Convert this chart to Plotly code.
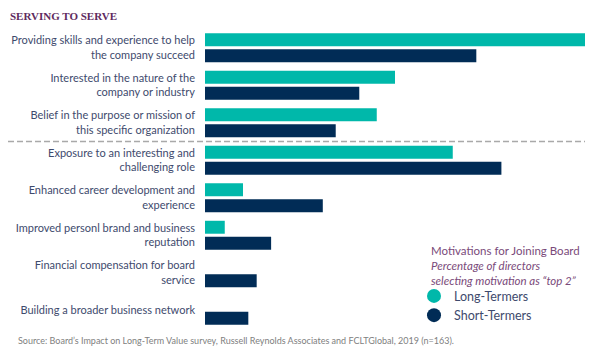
import plotly.graph_objects as go

categories = [
    "Providing skills and experience to help<br>the company succeed",
    "Interested in the nature of the<br>company or industry",
    "Belief in the purpose or mission of<br>this specific organization",
    "Exposure to an interesting and<br>challenging role",
    "Enhanced career development and<br>experience",
    "Improved personl brand and business<br>reputation",
    "Financial compensation for board<br>service",
    "Building a broader business network",
]
long_termers = [50.0, 25.0, 22.6, 32.6, 5.0, 2.6, None, None]
short_termers = [35.7, 20.3, 17.2, 39.0, 15.5, 8.7, 6.8, 5.7]
series_names = ["Long-Termers", "Short-Termers"]
colors = ["#00b8aa", "#012c56"]

fig = go.Figure()
for name, vals, col in zip(series_names, [long_termers, short_termers], colors):
    fig.add_trace(go.Bar(
        y=categories, x=vals, orientation="h", name=name,
        marker=dict(color=col, line=dict(width=0)),
        showlegend=False, hoverinfo="x+y",
    ))
for name, col in zip(series_names, colors):
    fig.add_trace(go.Scatter(
        x=[None], y=[None], mode="markers", name=name,
        marker=dict(color=col, size=14, symbol="circle"),
        showlegend=True,
    ))

label_color = "#3e4a6d"
# page body has an 8px margin; figure is sized to fit inside the 600x355 window
OFF = 8
FW, FH = 600 - OFF, 355 - OFF
PL, PR, PT = 205 - OFF, 15, 28.5 - OFF
PB = FH - (328.75 - OFF)
PW = FW - PL - PR
PH = FH - PT - PB


def px(xr):  # reference-page x -> paper x
    return (xr - OFF - PL) / PW


def py(yr):  # reference-page y -> paper y
    return (FH - PB - (yr - OFF)) / PH


fig.update_layout(
    width=FW, height=FH,
    margin=dict(l=PL, r=PR, t=PT, b=PB, autoexpand=False),
    paper_bgcolor="white", plot_bgcolor="white",
    barmode="group", bargap=0.147, bargroupgap=0.19,
    font=dict(family="Lato", color=label_color, size=11),
    xaxis=dict(range=[0, 50], visible=False, fixedrange=True),
    yaxis=dict(autorange="reversed", showgrid=False, showline=False, zeroline=False,
               ticks="", ticklabelstandoff=9, automargin=False,
               tickfont=dict(family="Lato", size=11, color=label_color)),
    legend=dict(x=px(414), y=py(281), xanchor="left", yanchor="top",
                xref="paper", yref="paper", bgcolor="rgba(0,0,0,0)",
                font=dict(family="Lato", size=12.5, color=label_color),
                itemwidth=30, tracegroupgap=0),
    shapes=[dict(type="line", xref="paper", yref="y", x0=px(8), x1=1.0, y0=2.5, y1=2.5,
                 line=dict(color="#a9a9a9", width=1.5, dash="6px,3px"))],
    annotations=[
        dict(text="<b>SERVING TO SERVE</b>", xref="paper", yref="paper",
             x=px(8), y=py(15), xanchor="left", yanchor="middle",
             showarrow=False, font=dict(family="Liberation Serif", size=11, color="#5e2a5e")),
        dict(text="Motivations for Joining Board<br><i>Percentage of directors<br>selecting motivation as \u201ctop 2\u201d</i>",
             xref="paper", yref="paper", x=px(429), y=py(242),
             xanchor="left", yanchor="top", align="left", showarrow=False,
             font=dict(family="Lato", size=11.5, color="#7a4a7a")),
        dict(text="Source: Board\u2019s Impact on Long-Term Value survey, Russell Reynolds Associates and FCLTGlobal, 2019 (n=163).",
             xref="paper", yref="paper", x=px(16), y=py(340),
             xanchor="left", yanchor="middle", showarrow=False,
             font=dict(family="Lato", size=9, color="#808080")),
    ],
)

fig.write_html("out.html")
